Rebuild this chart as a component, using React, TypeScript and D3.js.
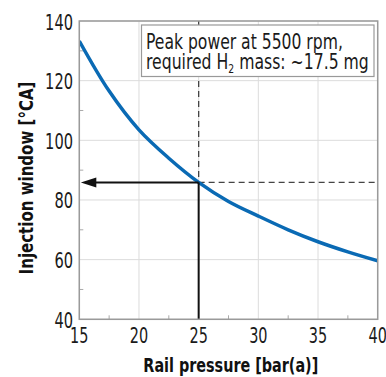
import React, { useLayoutEffect, useRef, useState } from "react";
import * as d3 from "d3";

const pressures = [15, 17.5, 20, 22.5, 25, 27.5, 30, 32.5, 35, 37.5, 40];
const windows = [133.3, 116.5, 103.5, 94.0, 85.9, 79.5, 74.6, 70.0, 66.0, 62.6, 59.6];
const xTicks = [15, 20, 25, 30, 35, 40];
const yTicks = [40, 60, 80, 100, 120, 140];
const xMinor = [17.5, 22.5, 27.5, 32.5, 37.5];
const yMinor = [50, 70, 90, 110, 130];
const markX = 25;
const markY = 85.9;
const noteLine1 = "Peak power at 5500 rpm,";
const noteLine2a = "required H";
const noteLine2sub = "2";
const noteLine2b = " mass: ~17.5 mg";
const xTitle = "Rail pressure [bar(a)]";
const yTitle = "Injection window [°CA]";

const FONT = "'DejaVu Sans Condensed', 'Liberation Sans Narrow', 'DejaVu Sans', sans-serif";

type FitProps = {
  x: number;
  y: number;
  width: number;
  anchor?: "start" | "middle" | "end";
  rotate?: number;
  fontSize: number;
  fontWeight?: string;
  fill?: string;
  children: React.ReactNode;
};

function FitText({ x, y, width, anchor = "start", rotate = 0, fontSize, fontWeight, fill = "#1a1a1a", children }: FitProps) {
  const ref = useRef<SVGTextElement>(null);
  const [s, setS] = useState(1);
  useLayoutEffect(() => {
    if (ref.current) {
      const w = ref.current.getBBox().width;
      if (w > 0) setS(width / w);
    }
  }, [width]);
  return (
    <g transform={`translate(${x},${y}) rotate(${rotate}) scale(${s},1)`}>
      <text ref={ref} x={0} y={0} textAnchor={anchor} fontSize={fontSize} fontWeight={fontWeight} fill={fill}>
        {children}
      </text>
    </g>
  );
}

export default function App() {
  const W = 386, H = 377;
  const m = { l: 79.3, r: 377.7, t: 21, b: 319.3 };
  const x = d3.scaleLinear().domain([15, 40]).range([m.l, m.r]);
  const y = d3.scaleLinear().domain([40, 140]).range([m.b, m.t]);
  const pts = pressures.map((p, i) => [p, windows[i]] as [number, number]);
  const line = d3.line<[number, number]>().x(d => x(d[0])).y(d => y(d[1])).curve(d3.curveCatmullRom.alpha(0.5));
  const mx = x(markX), my = y(markY);
  return (
    <svg width={W} height={H} style={{ position: "absolute", left: 0, top: 0, background: "#fff" }} fontFamily={FONT}>
      <defs>
        <clipPath id="plot"><rect x={m.l} y={m.t} width={m.r - m.l} height={m.b - m.t} /></clipPath>
      </defs>
      <rect x={0} y={0} width={W} height={H} fill="#fff" />
      {xTicks.map(t => (
        <line key={"gx" + t} x1={x(t)} x2={x(t)} y1={m.t} y2={m.b} stroke="#dcdcdc" strokeWidth={1} />
      ))}
      {yTicks.map(t => (
        <line key={"gy" + t} x1={m.l} x2={m.r} y1={y(t)} y2={y(t)} stroke="#dcdcdc" strokeWidth={1} />
      ))}
      {xMinor.map(t => (
        <line key={"mx" + t} x1={x(t)} x2={x(t)} y1={m.b} y2={m.b - 4} stroke="#aaa" strokeWidth={1} />
      ))}
      {yMinor.map(t => (
        <line key={"my" + t} x1={m.l} x2={m.l + 4} y1={y(t)} y2={y(t)} stroke="#aaa" strokeWidth={1} />
      ))}
      <line x1={mx} x2={mx} y1={m.t} y2={my} stroke="#444" strokeWidth={1.3} strokeDasharray="6,4" />
      <line x1={mx} x2={m.r} y1={my} y2={my} stroke="#444" strokeWidth={1.3} strokeDasharray="6,4" />
      <rect x={141.5} y={25} width={232.5} height={51.5} fill="#fff" stroke="#999" strokeWidth={1.2} />
      <FitText x={146} y={48.5} width={197} fontSize={22}>{noteLine1}</FitText>
      <FitText x={146} y={68.5} width={223} fontSize={22}>
        {noteLine2a}
        <tspan fontSize={13} dy={4}>{noteLine2sub}</tspan>
        <tspan dy={-4}>{noteLine2b}</tspan>
      </FitText>
      <g clipPath="url(#plot)">
        <path d={line(pts) || ""} fill="none" stroke="#0a6ab4" strokeWidth={3.5} />
      </g>
      <line x1={mx} x2={mx} y1={my} y2={m.b} stroke="#111" strokeWidth={2} />
      <line x1={mx} x2={m.l + 14} y1={my} y2={my} stroke="#111" strokeWidth={2} />
      <path d={`M${m.l + 1.5},${my} L${m.l + 17},${my - 5} L${m.l + 17},${my + 5} Z`} fill="#111" />
      <rect x={m.l} y={m.t} width={m.r - m.l} height={m.b - m.t} fill="none" stroke="#9a9a9a" strokeWidth={1.5} />
      {xTicks.map(t => (
        <FitText key={"xl" + t} x={x(t)} y={343} width={String(t).length * 9.2} anchor="middle" fontSize={22}>{t}</FitText>
      ))}
      {yTicks.map(t => (
        <FitText key={"yl" + t} x={73} y={y(t) + 8.5} width={String(t).length * 9.3} anchor="end" fontSize={21}>{t}</FitText>
      ))}
      <FitText x={230.8} y={372} width={175} anchor="middle" fontSize={20} fontWeight="bold" fill="#111">{xTitle}</FitText>
      <FitText x={33} y={178} width={193} anchor="middle" rotate={-90} fontSize={20} fontWeight="bold" fill="#111">{yTitle}</FitText>
    </svg>
  );
}
